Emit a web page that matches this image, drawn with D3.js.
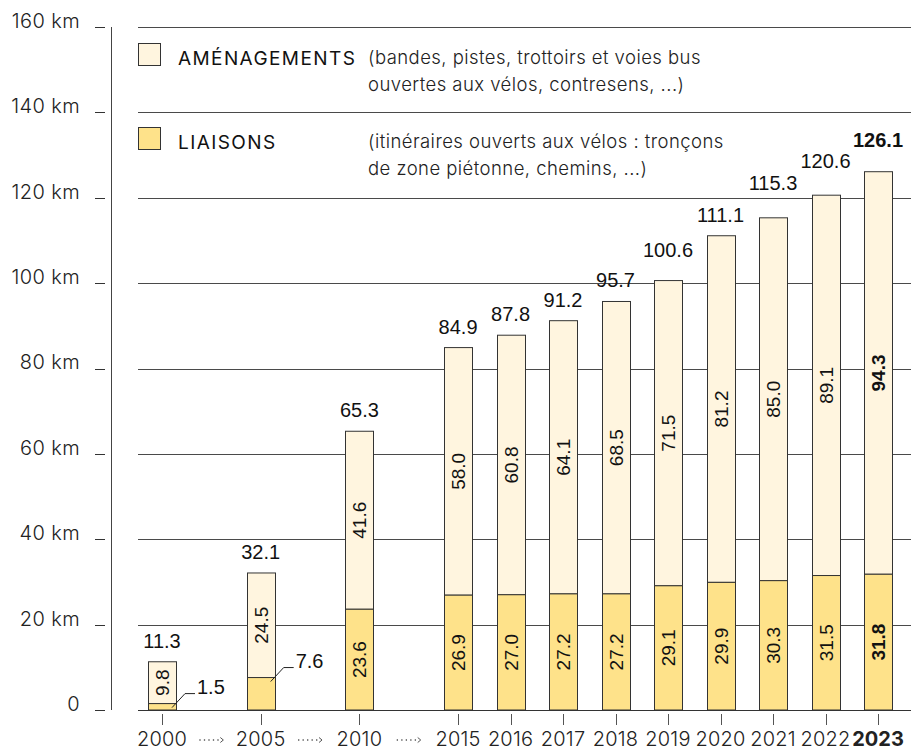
<!DOCTYPE html>
<html lang="fr">
<head>
<meta charset="utf-8">
<script src="https://cdn.jsdelivr.net/npm/d3@7/dist/d3.min.js"></script>
<style>
  html, body { margin: 0; padding: 0; background: #fff; }
  svg { display: block; }
  .axis-label { font-family: Inter, "Open Sans", sans-serif; font-size: 20px; font-weight: 300; fill: #222; letter-spacing: 0.4px; }
  .year-label { font-family: Inter, "Open Sans", sans-serif; font-size: 20px; font-weight: 300; fill: #222; letter-spacing: 0.2px; }
  .val { font-family: "Liberation Sans", Arial, sans-serif; font-size: 19px; fill: #111; }
  .total { font-family: "Liberation Sans", Arial, sans-serif; font-size: 20px; fill: #111; }
  .legend-title { font-family: Inter, "Open Sans", sans-serif; font-size: 19px; fill: #111; letter-spacing: 1.4px; }
  .legend-note { font-family: Inter, "Open Sans", sans-serif; font-size: 18.5px; font-weight: 300; fill: #222; letter-spacing: 0.45px; }
</style>
</head>
<body>
<svg id="chart" width="911" height="752"></svg>
<script>
// Réseau cyclable : longueur en km par année
const years        = [2000, 2005, 2010, 2015, 2016, 2017, 2018, 2019, 2020, 2021, 2022, 2023];
const liaisons     = [1.5, 7.6, 23.6, 26.9, 27.0, 27.2, 27.2, 29.1, 29.9, 30.3, 31.5, 31.8];
const amenagements = [9.8, 24.5, 41.6, 58.0, 60.8, 64.1, 68.5, 71.5, 81.2, 85.0, 89.1, 94.3];
const totals       = [11.3, 32.1, 65.3, 84.9, 87.8, 91.2, 95.7, 100.6, 111.1, 115.3, 120.6, 126.1];
const yTicks       = [0, 20, 40, 60, 80, 100, 120, 140, 160];

const COL_AMEN = "#fff5df";
const COL_LIAI = "#fee28a";
const STROKE = "#333";

const svg = d3.select("#chart");
const W = 911;

const y = d3.scaleLinear().domain([0, 160]).range([710, 27]);

// years that are more than one year apart get a wider gap (with a dotted arrow)
const BREAK_GAP = 1.88;
const slots = [];
years.forEach((yr, i) => {
  slots.push(i === 0 ? 0 : slots[i - 1] + (yr - years[i - 1] > 1 ? BREAK_GAP : 1));
});
const x = d3.scaleLinear().domain([0, slots[slots.length - 1]]).range([162, 878]);
const cx = i => x(slots[i]);
const BAR_W = 28;
const last = years.length - 1;

// gridlines
const gridY = yTicks.filter(v => v > 0);
svg.append("g").selectAll("line").data(gridY).join("line")
  .attr("x1", 138).attr("x2", W)
  .attr("y1", d => Math.round(y(d)) + 0.5).attr("y2", d => Math.round(y(d)) + 0.5)
  .attr("stroke", "#4a4a4a").attr("stroke-width", 1);

// left axis: vertical rule, short ticks and labels
const yAxis = d3.axisLeft(y).tickValues(yTicks).tickSize(0)
  .tickFormat(d => d === 0 ? "0" : d + " km");
const gy = svg.append("g").attr("transform", "translate(80,0)").call(yAxis);
gy.select(".domain").remove();
gy.selectAll("text").attr("class", "axis-label").attr("x", 0).attr("dy", "0.02em")
  .attr("text-anchor", "end");
svg.append("g").selectAll("line").data(yTicks).join("line")
  .attr("x1", 95).attr("x2", 105)
  .attr("y1", d => Math.round(y(d)) + 0.5).attr("y2", d => Math.round(y(d)) + 0.5)
  .attr("stroke", "#333").attr("stroke-width", 1);
svg.append("line").attr("x1", 111.5).attr("x2", 111.5)
  .attr("y1", y(160)).attr("y2", y(0))
  .attr("stroke", "#444").attr("stroke-width", 1);

// legend
const legend = [
  { label: "AMÉNAGEMENTS", fill: COL_AMEN, top: 43, note: ["(bandes, pistes, trottoirs et voies bus", "ouvertes aux vélos, contresens, ...)"], noteY: 64 },
  { label: "LIAISONS", fill: COL_LIAI, top: 127, note: ["(itinéraires ouverts aux vélos : tronçons", "de zone piétonne, chemins, ...)"], noteY: 148 }
];
const lg = svg.append("g");
legend.forEach(l => {
  lg.append("rect").attr("x", 138.5).attr("y", l.top + 0.5).attr("width", 22).attr("height", 22)
    .attr("fill", l.fill).attr("stroke", STROKE).attr("stroke-width", 1);
  lg.append("text").attr("class", "legend-title").attr("x", 178).attr("y", l.top + 22).text(l.label);
  l.note.forEach((t, k) => {
    lg.append("text").attr("class", "legend-note").attr("x", 368).attr("y", l.noteY + k * 27).text(t);
  });
});

// bars
const bars = svg.append("g");
years.forEach((yr, i) => {
  const x0 = Math.round(cx(i) - BAR_W / 2) + 0.5;
  const yL = y(liaisons[i]);
  const yT = y(totals[i]);
  bars.append("rect").attr("x", x0).attr("y", yT).attr("width", BAR_W).attr("height", yL - yT)
    .attr("fill", COL_AMEN).attr("stroke", STROKE).attr("stroke-width", 1);
  bars.append("rect").attr("x", x0).attr("y", yL).attr("width", BAR_W).attr("height", y(0) - yL)
    .attr("fill", COL_LIAI).attr("stroke", STROKE).attr("stroke-width", 1);
});

// baseline
svg.append("line").attr("x1", 138).attr("x2", W)
  .attr("y1", Math.round(y(0)) + 0.5).attr("y2", Math.round(y(0)) + 0.5)
  .attr("stroke", "#333").attr("stroke-width", 1.2);

// value labels
const fmt = d3.format(".1f");
const labels = svg.append("g");
const bold = i => i === last ? "bold" : "normal";
// extra lift for the crowded totals on the right
const totalLift = { 2019: 10, 2021: 14, 2022: 13, 2023: 11 };
years.forEach((yr, i) => {
  const c = cx(i);
  labels.append("text").attr("class", "total")
    .attr("x", c).attr("y", y(totals[i]) - 14 - (totalLift[yr] || 0))
    .attr("text-anchor", "middle").attr("font-weight", bold(i))
    .text(fmt(totals[i]));

  const amenMid = (y(totals[i]) + y(liaisons[i])) / 2;
  labels.append("text").attr("class", "val")
    .attr("transform", `translate(${c + 7},${amenMid}) rotate(-90)`)
    .attr("text-anchor", "middle").attr("font-weight", bold(i))
    .text(fmt(amenagements[i]));

  const liaiH = y(0) - y(liaisons[i]);
  if (liaiH > 40) {
    const liaiMid = (y(0) + y(liaisons[i])) / 2;
    labels.append("text").attr("class", "val")
      .attr("transform", `translate(${c + 7},${liaiMid}) rotate(-90)`)
      .attr("text-anchor", "middle").attr("font-weight", bold(i))
      .text(fmt(liaisons[i]));
  } else {
    // small segment: label outside with a leader line
    const sy = y(liaisons[i]) + 4;
    const ly = sy - 14;
    labels.append("path")
      .attr("d", `M${c + 10},${sy} L${c + 23},${ly} L${c + 33},${ly}`)
      .attr("fill", "none").attr("stroke", "#222").attr("stroke-width", 1);
    labels.append("text").attr("class", "total").attr("x", c + 35).attr("y", ly)
      .text(fmt(liaisons[i]));
  }
});

// bottom ticks and year labels
const xg = svg.append("g");
years.forEach((yr, i) => {
  const c = Math.round(cx(i)) + 0.5;
  xg.append("line").attr("x1", c).attr("x2", c).attr("y1", 714).attr("y2", 725)
    .attr("stroke", "#555").attr("stroke-width", 1);
  xg.append("text").attr("class", "year-label").attr("x", cx(i)).attr("y", 746)
    .attr("text-anchor", "middle")
    .style("font-weight", i === last ? "700" : null)
    .style("letter-spacing", i === last ? "0px" : null)
    .text(yr);
  // dotted arrow between non-consecutive years
  if (i > 0 && yr - years[i - 1] > 1) {
    const m = (cx(i) + cx(i - 1)) / 2;
    xg.append("line").attr("x1", m - 12).attr("x2", m + 8).attr("y1", 740).attr("y2", 740)
      .attr("stroke", "#555").attr("stroke-width", 1.3).attr("stroke-dasharray", "1.3,3.2");
    xg.append("path").attr("d", `M${m + 9},737.5 L${m + 12},740 L${m + 9},742.5`)
      .attr("fill", "none").attr("stroke", "#555").attr("stroke-width", 1);
  }
});
</script>
</body>
</html>
